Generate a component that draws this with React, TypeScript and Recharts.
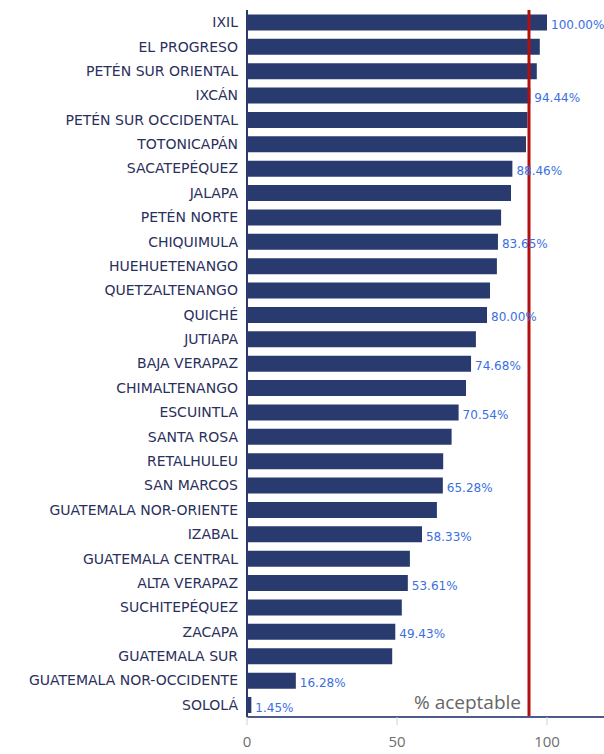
import {
  BarChart,
  Bar,
  XAxis,
  YAxis,
  ReferenceLine,
  LabelList,
} from "recharts";

const REGIONS = [
  "IXIL",
  "EL PROGRESO",
  "PETÉN SUR ORIENTAL",
  "IXCÁN",
  "PETÉN SUR OCCIDENTAL",
  "TOTONICAPÁN",
  "SACATEPÉQUEZ",
  "JALAPA",
  "PETÉN NORTE",
  "CHIQUIMULA",
  "HUEHUETENANGO",
  "QUETZALTENANGO",
  "QUICHÉ",
  "JUTIAPA",
  "BAJA VERAPAZ",
  "CHIMALTENANGO",
  "ESCUINTLA",
  "SANTA ROSA",
  "RETALHULEU",
  "SAN MARCOS",
  "GUATEMALA NOR-ORIENTE",
  "IZABAL",
  "GUATEMALA CENTRAL",
  "ALTA VERAPAZ",
  "SUCHITEPÉQUEZ",
  "ZACAPA",
  "GUATEMALA SUR",
  "GUATEMALA NOR-OCCIDENTE",
  "SOLOLÁ",
];

const PERCENT = [
  100.0, 97.6, 96.6, 94.44, 93.5, 93.0, 88.46, 88.0, 84.7, 83.65, 83.3, 81.0,
  80.0, 76.3, 74.68, 73.0, 70.54, 68.2, 65.4, 65.28, 63.3, 58.33, 54.3, 53.61,
  51.6, 49.43, 48.4, 16.28, 1.45,
];

// only some bars carry a printed value
const SHOWN_LABELS = [
  "100.00%", "", "", "94.44%", "", "", "88.46%", "", "", "83.65%", "", "",
  "80.00%", "", "74.68%", "", "70.54%", "", "", "65.28%", "", "58.33%", "",
  "53.61%", "", "49.43%", "", "16.28%", "1.45%",
];

const X_TICKS = [0, 50, 100];
const ACCEPTABLE = 94;

const data = REGIONS.map((region, i) => ({
  region,
  value: PERCENT[i],
  label: SHOWN_LABELS[i],
}));

function ValueLabel(props: any) {
  const { x, y, width, height, index } = props;
  const text = SHOWN_LABELS[index];
  if (!text) return null;
  return (
    <text
      x={Number(x) + Number(width) + 4}
      y={Number(y) + Number(height) / 2 + 3}
      fill="#3b6fe0"
      fontSize={12}
      fontFamily="DejaVu Sans"
      dominantBaseline="middle"
    >
      {text}
    </text>
  );
}

export default function App() {
  return (
    <div style={{ position: "absolute", left: 0, top: 0, background: "#fff" }}>
      <BarChart
        width={604}
        height={754}
        data={data}
        layout="vertical"
        margin={{ top: 10, right: 0, bottom: 0, left: 0 }}
        barCategoryGap="18%"
      >
        <XAxis
          type="number"
          domain={[0, 119]}
          ticks={X_TICKS}
          height={37}
          axisLine={{ stroke: "#4d5b8c", strokeWidth: 2 }}
          tickLine={{ stroke: "#d0d0d0" }}
          tickSize={8}
          tickMargin={11}
          tick={{ fill: "#6e6e6e", fontSize: 15, fontFamily: "Open Sans" }}
        />
        <YAxis
          type="category"
          dataKey="region"
          width={247}
          axisLine={{ stroke: "#2b3a6e", strokeWidth: 2 }}
          tickLine={false}
          tickSize={0}
          tickMargin={9}
          interval={0}
          tick={{ fill: "#2b2f5c", fontSize: 14, fontFamily: "DejaVu Sans" }}
        />
        <Bar dataKey="value" fill="#283a6e" isAnimationActive={false}>
          <LabelList dataKey="label" content={ValueLabel} />
        </Bar>
        <ReferenceLine
          x={ACCEPTABLE}
          stroke="#b40f0f"
          strokeWidth={3}
          label={{
            value: "% aceptable",
            position: "insideBottomRight",
            offset: 8,
            fill: "#666666",
            fontSize: 19,
            fontFamily: "Open Sans",
          }}
        />
      </BarChart>
    </div>
  );
}
